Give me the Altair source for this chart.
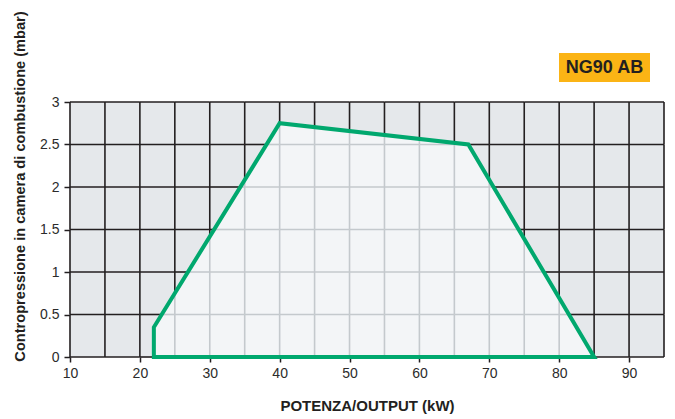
import altair as alt
import pandas as pd

# ---- data ----
x_grid = [10, 15, 20, 25, 30, 35, 40, 45, 50, 55, 60, 65, 70, 75, 80, 85, 90, 95]
y_grid = [0, 0.5, 1, 1.5, 2, 2.5, 3]
x_labels = [10, 20, 30, 40, 50, 60, 70, 80, 90]
poly_x = [22, 22, 40, 67, 85]
poly_y = [0, 0.35, 2.75, 2.5, 0]
badge = "NG90 AB"

DARK = "#231f20"
LIGHT = "#c4c9cd"
OUT_FILL = "#e5e8eb"
IN_FILL = "#f3f5f7"
GREEN = "#00a86e"
FONT = "Liberation Sans"

# polygon helpers
P = list(zip(poly_x, poly_y))


def inside(px, py):
    c = False
    n = len(P)
    for i in range(n):
        x1, y1 = P[i]
        x2, y2 = P[(i + 1) % n]
        if (y1 > py) != (y2 > py):
            xi = x1 + (py - y1) * (x2 - x1) / (y2 - y1)
            if px < xi:
                c = not c
    return c


def cuts(ax, ay, bx, by):
    ts = [0.0, 1.0]
    n = len(P)
    for i in range(n):
        cx, cy = P[i]
        dx, dy = P[(i + 1) % n]
        rx, ry = bx - ax, by - ay
        sx, sy = dx - cx, dy - cy
        den = rx * sy - ry * sx
        if abs(den) < 1e-12:
            continue
        t = ((cx - ax) * sy - (cy - ay) * sx) / den
        u = ((cx - ax) * ry - (cy - ay) * rx) / den
        if 0 < t < 1 and 0 <= u <= 1:
            ts.append(t)
    return sorted(set(ts))


rows = []


def add_segment(ax, ay, bx, by):
    ts = cuts(ax, ay, bx, by)
    for t0, t1 in zip(ts[:-1], ts[1:]):
        tm = (t0 + t1) / 2
        mx, my = ax + (bx - ax) * tm, ay + (by - ay) * tm
        kind = "light" if inside(mx, my) else "dark"
        rows.append({
            "x": ax + (bx - ax) * t0, "y": ay + (by - ay) * t0,
            "x2": ax + (bx - ax) * t1, "y2": ay + (by - ay) * t1,
            "kind": kind,
        })


for xv in x_grid:
    for y0, y1 in zip(y_grid[:-1], y_grid[1:]):
        add_segment(xv, y0, xv, y1)
for yv in y_grid:
    for x0, x1 in zip(x_grid[:-1], x_grid[1:]):
        add_segment(x0, yv, x1, yv)

grid_df = pd.DataFrame(rows)
area_df = pd.DataFrame({"x": poly_x[1:], "y": poly_y[1:]})
outline_df = pd.DataFrame({
    "x": poly_x + [poly_x[0]],
    "y": poly_y + [poly_y[0]],
    "i": list(range(len(poly_x) + 1)),
})

xscale = alt.Scale(domain=[10, 95], nice=False, zero=False)
yscale = alt.Scale(domain=[0, 3], nice=False)

xaxis = alt.Axis(
    values=x_labels, grid=False, domain=False, ticks=True, tickSize=5,
    tickColor=DARK, tickWidth=1.5, labelFontSize=14, labelColor="#2b2b2b",
    labelFont=FONT, labelPadding=4, title="POTENZA/OUTPUT (kW)",
    titleFont=FONT, titleFontSize=15, titleFontWeight="bold", titleColor=DARK,
    titleX=297, titleY=48, titleBaseline="middle", labelFlush=False,
)
yaxis = alt.Axis(
    values=y_grid, grid=False, domain=False, ticks=True, tickSize=6,
    tickColor=DARK, tickWidth=1.5, labelFontSize=14, labelColor="#2b2b2b",
    labelFont=FONT, labelPadding=5, labelExpr="'' + datum.value",
    title="Contropressione in camera di combustione (mbar)",
    titleFont=FONT, titleFontSize=14.6, titleFontWeight="bold", titleColor=DARK,
    titleAngle=-90, titleX=-50, titleY=84, titleAlign="center",
    titleBaseline="middle", labelFlush=False,
)

bg = alt.Chart(pd.DataFrame({"a": [0]})).mark_rect(color=OUT_FILL).encode(
    x=alt.value(0), x2=alt.value(594), y=alt.value(0), y2=alt.value(255)
)

area = alt.Chart(area_df).mark_area(color=IN_FILL, opacity=1).encode(
    x=alt.X("x:Q", scale=xscale, axis=xaxis),
    y=alt.Y("y:Q", scale=yscale, axis=yaxis),
    y2=alt.datum(0),
)

grid = alt.Chart(grid_df).mark_rule(strokeWidth=1.6, strokeCap="butt").encode(
    x=alt.X("x:Q", scale=xscale, axis=xaxis),
    x2="x2:Q",
    y=alt.Y("y:Q", scale=yscale, axis=yaxis),
    y2="y2:Q",
    color=alt.Color("kind:N", scale=alt.Scale(domain=["dark", "light"], range=[DARK, LIGHT]), legend=None),
)

outline = alt.Chart(outline_df).mark_line(
    color=GREEN, strokeWidth=4, strokeJoin="miter", strokeCap="square"
).encode(
    x=alt.X("x:Q", scale=xscale, axis=xaxis),
    y=alt.Y("y:Q", scale=yscale, axis=yaxis),
    order="i:Q",
)

badge_df = pd.DataFrame({"label": [badge]})
badge_box = alt.Chart(badge_df).mark_rect(color="#fbb415").encode(
    x=alt.value(489), x2=alt.value(580), y=alt.value(-49), y2=alt.value(-20)
)
badge_text = alt.Chart(badge_df).mark_text(
    font=FONT, fontSize=18, fontWeight="bold", color=DARK,
    align="center", baseline="middle",
).encode(text="label:N", x=alt.value(534.5), y=alt.value(-34))

chart = alt.layer(bg, area, grid, outline, badge_box, badge_text).properties(
    width=594, height=255,
    autosize=alt.AutoSizeParams(type="none"),
    padding={"left": 62, "top": 94, "right": 3, "bottom": 60},
    background="white",
).configure_view(stroke=None)

chart.save("out.html", embed_options={"renderer": "svg", "actions": False})
